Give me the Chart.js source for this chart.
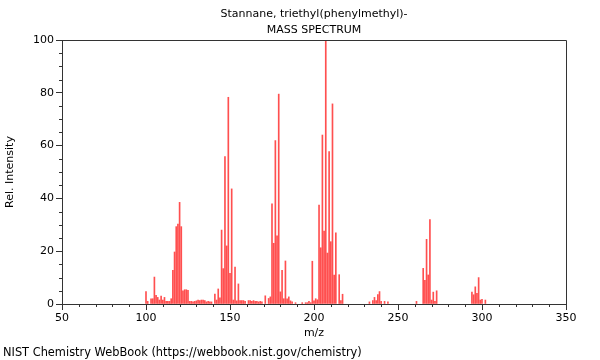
<!DOCTYPE html>
<html>
<head>
<meta charset="utf-8">
<script src="https://cdn.jsdelivr.net/npm/chart.js@4/dist/chart.umd.min.js"></script>
<style>
html,body{margin:0;padding:0;background:#fff;}
#wrap{width:600px;height:360px;position:relative;}
</style>
</head>
<body>
<div id="wrap"><canvas id="c" width="600" height="360"></canvas></div>
<script>
// ---- data ----
const titleLines = ['Stannane, triethyl(phenylmethyl)-', 'MASS SPECTRUM'];
const xLabel = 'm/z';
const yLabel = 'Rel. Intensity';
const footerText = 'NIST Chemistry WebBook (https://webbook.nist.gov/chemistry)';

const mz = [
  100,101,103,104,105,106,107,108,109,110,111,112,113,114,115,116,117,118,119,120,
  121,122,123,124,125,126,127,128,129,130,131,132,133,134,135,136,137,138,139,141,
  142,143,144,145,146,147,148,149,150,151,152,153,154,155,156,157,158,159,161,162,
  163,164,165,166,167,168,169,171,173,174,175,176,177,178,179,180,181,182,183,184,
  185,186,187,189,193,195,196,197,198,199,200,201,202,203,204,205,206,207,208,209,
  210,211,212,213,215,216,217,233,235,236,237,238,239,240,242,244,261,265,266,267,
  268,269,270,271,272,273,294,295,296,297,298,299,300,302
];
const intensity = [
  4.7,1.0,2.0,2.0,10.2,3.3,2.5,1.5,3.0,1.5,2.5,1.0,1.0,1.0,2.0,12.8,19.7,29.3,30.3,38.5,
  29.3,5.0,5.4,5.4,5.2,1.0,1.0,0.8,1.0,1.2,1.5,1.3,1.5,1.5,1.3,0.8,1.0,0.8,0.8,3.8,
  1.5,5.7,2.3,28.0,13.4,55.8,22.0,78.3,11.6,43.6,1.5,14.0,1.2,7.6,1.3,1.3,1.3,1.0,1.3,1.3,
  1.0,1.3,1.0,1.0,0.8,1.0,0.8,3.1,2.1,2.7,37.9,23.0,61.9,25.8,79.5,4.6,12.8,2.0,16.3,2.0,
  2.7,1.2,0.8,0.5,0.5,0.5,0.5,1.0,0.5,16.2,1.2,2.0,1.6,37.5,21.3,64.0,27.6,100,19.3,57.7,
  23.6,75.8,11.0,27.0,11.1,1.3,3.7,0.8,1.3,2.5,1.3,3.6,4.7,1.0,1.0,0.8,1.0,13.5,9.0,24.5,
  11.0,32.0,1.5,4.5,1.0,5.0,4.5,3.5,6.5,4.0,10.0,1.5,1.8,1.5
];

const xRange = [50, 350];
const yRange = [0, 100];
const xMajorStep = 50, xMinorStep = 10;
const yMajorStep = 20, yMinorStep = 5;

// ---- chart ----
Chart.defaults.font.family = "'DejaVu Sans', sans-serif";
Chart.defaults.font.size = 11;
Chart.defaults.color = '#000';

const axisColor = '#333';

const framePlugin = {
  id: 'frame',
  afterDraw(chart) {
    const {ctx, chartArea: a, scales: {x, y}} = chart;
    ctx.save();
    ctx.strokeStyle = axisColor;
    ctx.lineWidth = 1;
    ctx.beginPath();
    // frame
    ctx.rect(Math.round(a.left) + 0.5, Math.round(a.top) + 0.5,
             Math.round(a.right - a.left), Math.round(a.bottom - a.top));
    // minor x ticks
    for (let v = xRange[0]; v <= xRange[1]; v += xMinorStep) {
      if (v % xMajorStep === 0) continue;
      const px = Math.round(x.getPixelForValue(v)) + 0.5;
      ctx.moveTo(px, a.bottom);
      ctx.lineTo(px, a.bottom + 3);
    }
    // minor y ticks
    for (let v = yRange[0]; v <= yRange[1]; v += yMinorStep) {
      if (v % yMajorStep === 0) continue;
      const py = Math.round(y.getPixelForValue(v)) + 0.5;
      ctx.moveTo(a.left, py);
      ctx.lineTo(a.left - 3, py);
    }
    ctx.stroke();
    // footer
    ctx.fillStyle = '#000';
    ctx.font = "11.4px 'DejaVu Sans', sans-serif";
    ctx.textBaseline = 'middle';
    ctx.textAlign = 'left';
    ctx.fillText(footerText, 3, 353);
    ctx.restore();
  }
};

new Chart(document.getElementById('c'), {
  type: 'bar',
  data: {
    datasets: [{
      data: mz.map((m, i) => ({x: m, y: intensity[i]})),
      backgroundColor: 'rgba(255,30,30,0.78)',
      borderWidth: 0,
      barThickness: 1,
      grouped: false
    }]
  },
  options: {
    responsive: false,
    animation: false,
    events: [],
    layout: {padding: {left: 0, right: 34, top: 0, bottom: 0}},
    plugins: {
      legend: {display: false},
      tooltip: {enabled: false},
      title: {
        display: true,
        text: titleLines,
        fullSize: false,
        color: '#000',
        font: {size: 11, weight: 'normal', lineHeight: 16/11},
        padding: {top: 6, bottom: 2}
      }
    },
    scales: {
      x: {
        type: 'linear',
        min: xRange[0], max: xRange[1],
        offset: false,
        ticks: {stepSize: xMajorStep, padding: 2, color: '#000', maxRotation: 0, autoSkip: false},
        grid: {display: true, drawOnChartArea: false, drawTicks: true, tickLength: 6, color: axisColor, offset: false},
        border: {display: true, color: axisColor},
        title: {display: true, text: xLabel, color: '#000', font: {size: 11}, padding: {top: 0, bottom: 20}},
        afterFit(scale) { scale.height = 56; }
      },
      y: {
        type: 'linear',
        min: yRange[0], max: yRange[1],
        ticks: {stepSize: yMajorStep, padding: 2, color: '#000'},
        grid: {display: true, drawOnChartArea: false, drawTicks: true, tickLength: 6, color: axisColor},
        border: {display: true, color: axisColor},
        title: {display: true, text: yLabel, color: '#000', font: {size: 11}, padding: {top: 4, bottom: 0}},
        afterFit(scale) { scale.width = 62; }
      }
    }
  },
  plugins: [framePlugin]
});
</script>
</body>
</html>
